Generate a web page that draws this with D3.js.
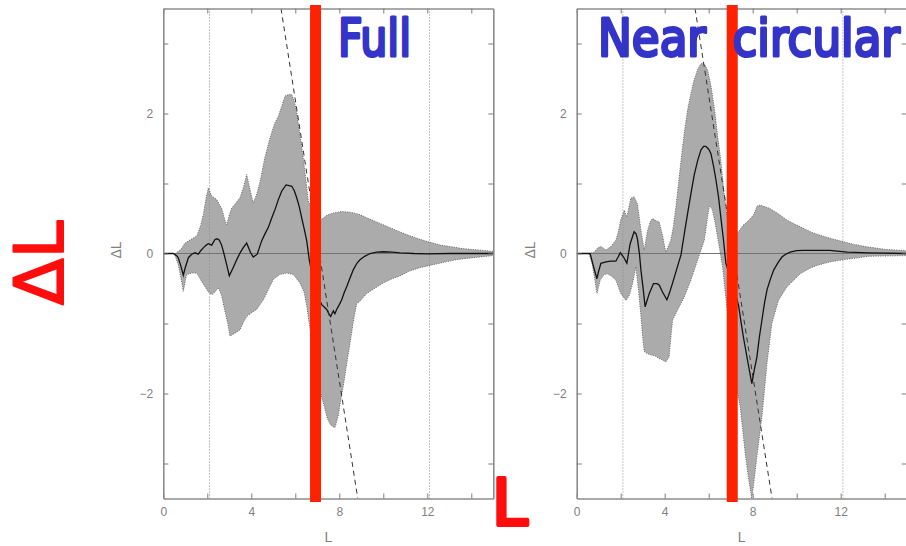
<!DOCTYPE html>
<meta charset="utf-8">
<style>
  body { margin: 0; background: #fff; }
</style>
<script src="https://d3js.org/d3.v7.min.js"></script>
<div id="my_dataviz"></div>
<script>

// ---- data: [L, deltaL] ----
var fullUpper = [[0,0],[0.55,0],[0.8,0.06],[0.99,0.15],[1.25,0.2],[1.52,0.25],[1.7,0.4],[1.82,0.56],[1.95,0.8],[2.05,0.94],[2.2,0.82],[2.43,0.77],[2.55,0.7],[2.65,0.65],[2.8,0.48],[2.88,0.41],[3.0,0.55],[3.11,0.65],[3.3,0.72],[3.49,0.8],[3.65,0.95],[3.79,1.13],[3.95,0.9],[4.09,0.72],[4.25,0.85],[4.4,1.03],[4.6,1.35],[4.85,1.65],[5.05,1.85],[5.23,1.96],[5.4,2.12],[5.53,2.25],[5.7,2.27],[5.84,2.27],[5.95,2.18],[6.06,2.03],[6.2,1.72],[6.36,1.37],[6.5,1.0],[6.59,0.75],[6.8,0.6],[7.2,0.49],[7.45,0.55],[7.73,0.58],[8.1,0.6],[8.49,0.59],[8.9,0.56],[9.25,0.51],[9.7,0.45],[10.15,0.39],[10.6,0.33],[11.06,0.27],[11.6,0.21],[12.12,0.16],[12.6,0.12],[13.03,0.1],[13.6,0.07],[14.1,0.057],[15,0.03]];
var fullLower = [[0,0],[0.5,0],[0.68,-0.16],[0.8,-0.35],[0.91,-0.54],[1.06,-0.3],[1.3,-0.28],[1.52,-0.28],[1.82,-0.44],[2.05,-0.55],[2.2,-0.59],[2.35,-0.55],[2.5,-0.49],[2.65,-0.6],[2.8,-0.82],[2.93,-1.0],[3.03,-1.18],[3.2,-1.15],[3.35,-1.12],[3.49,-1.09],[3.65,-0.98],[3.79,-0.9],[4.0,-0.85],[4.24,-0.8],[4.4,-0.73],[4.55,-0.66],[4.8,-0.5],[5.0,-0.37],[5.3,-0.3],[5.61,-0.28],[5.91,-0.3],[6.21,-0.42],[6.4,-0.55],[6.52,-0.75],[6.7,-1.15],[6.9,-1.6],[7.1,-1.95],[7.27,-2.13],[7.45,-2.35],[7.58,-2.44],[7.7,-2.47],[7.8,-2.49],[7.95,-2.32],[8.05,-2.12],[8.18,-1.9],[8.35,-1.55],[8.49,-1.28],[8.65,-0.95],[8.79,-0.72],[8.94,-0.68],[9.25,-0.57],[9.6,-0.5],[10.0,-0.42],[10.4,-0.36],[10.76,-0.32],[11.2,-0.25],[11.7,-0.2],[12.12,-0.17],[12.7,-0.13],[13.3,-0.09],[13.8,-0.07],[14.4,-0.05],[15,-0.03]];
var fullMean = [[0,0],[0.45,0],[0.6,-0.03],[0.68,-0.06],[0.8,-0.18],[0.91,-0.31],[1.0,-0.2],[1.14,-0.06],[1.29,-0.01],[1.44,0.01],[1.59,-0.01],[1.7,0.04],[1.82,0.08],[1.95,0.12],[2.05,0.14],[2.2,0.12],[2.35,0.2],[2.45,0.21],[2.55,0.19],[2.65,0.12],[2.73,0.03],[2.88,-0.16],[3.0,-0.32],[3.18,-0.2],[3.35,-0.08],[3.49,0.01],[3.65,0.09],[3.79,0.15],[3.88,0.08],[3.97,0.01],[4.09,-0.05],[4.27,-0.01],[4.47,0.18],[4.62,0.28],[4.77,0.37],[4.92,0.5],[5.08,0.63],[5.23,0.77],[5.38,0.89],[5.58,0.98],[5.72,0.97],[5.84,0.96],[5.95,0.9],[6.06,0.8],[6.18,0.67],[6.29,0.51],[6.4,0.36],[6.52,0.18],[6.64,-0.1],[6.8,-0.35],[7.0,-0.6],[7.2,-0.73],[7.43,-0.8],[7.52,-0.86],[7.61,-0.9],[7.68,-0.85],[7.73,-0.82],[7.8,-0.86],[7.88,-0.8],[8.0,-0.73],[8.11,-0.66],[8.22,-0.56],[8.34,-0.47],[8.5,-0.34],[8.64,-0.23],[8.8,-0.14],[8.94,-0.09],[9.15,-0.04],[9.4,0.0],[9.7,0.02],[10.0,0.025],[10.4,0.02],[10.76,0.01],[11.4,0.0],[12,-0.005],[13,0],[15,0]];
var fullDash = [[5.35,3.5],[8.84,-3.5]];

var nearUpper = [[0,0],[0.57,0],[0.8,0.02],[0.95,0.08],[1.1,0.1],[1.2,0.08],[1.33,0.05],[1.55,0.1],[1.78,0.19],[1.9,0.32],[2.0,0.48],[2.16,0.62],[2.28,0.52],[2.46,0.79],[2.61,0.81],[2.76,0.71],[2.85,0.5],[2.92,0.33],[3.07,0.05],[3.22,0.33],[3.35,0.46],[3.45,0.5],[3.6,0.47],[3.75,0.45],[3.9,0.26],[4.05,0.02],[4.28,0.19],[4.4,0.4],[4.51,0.67],[4.74,1.33],[4.9,1.75],[5.04,2.05],[5.2,2.3],[5.34,2.48],[5.5,2.63],[5.62,2.7],[5.72,2.72],[5.82,2.7],[5.95,2.62],[6.1,2.4],[6.25,2.09],[6.4,1.7],[6.55,1.33],[6.7,0.86],[6.85,0.5],[7.05,0.3],[7.36,0.31],[7.55,0.4],[7.74,0.45],[8.04,0.55],[8.2,0.68],[8.34,0.69],[8.55,0.67],[8.8,0.64],[9.2,0.56],[9.55,0.48],[9.9,0.42],[10.3,0.36],[10.7,0.3],[11.07,0.26],[11.6,0.21],[12.1,0.17],[12.6,0.13],[13.2,0.095],[14.0,0.06],[15,0.04]];
var nearLower = [[0,0],[0.45,0],[0.57,-0.01],[0.7,-0.15],[0.8,-0.33],[0.92,-0.57],[1.07,-0.38],[1.25,-0.3],[1.4,-0.29],[1.6,-0.33],[1.78,-0.38],[2.0,-0.57],[2.24,-0.67],[2.39,-0.6],[2.54,-0.43],[2.69,-0.19],[2.8,-0.5],[2.92,-0.9],[3.0,-1.2],[3.07,-1.4],[3.2,-1.43],[3.37,-1.45],[3.55,-1.46],[3.75,-1.5],[3.9,-1.52],[4.05,-1.55],[4.2,-1.48],[4.28,-1.2],[4.36,-0.95],[4.58,-0.81],[4.89,-0.62],[5.19,-0.38],[5.49,-0.1],[5.8,0.19],[5.92,0.45],[6.02,0.67],[6.1,0.66],[6.17,0.62],[6.3,0.42],[6.4,0.24],[6.52,0.02],[6.63,-0.19],[6.8,-0.7],[7.0,-1.3],[7.2,-1.8],[7.43,-2.19],[7.66,-2.86],[7.85,-3.3],[7.96,-3.5],[8.08,-3.2],[8.19,-2.9],[8.42,-2.33],[8.65,-1.57],[8.87,-1.0],[9.17,-0.67],[9.55,-0.48],[10.16,-0.29],[10.6,-0.21],[10.92,-0.17],[11.5,-0.12],[12.1,-0.09],[13.3,-0.04],[15,-0.03]];
var nearMean = [[0,0],[0.55,0],[0.61,0],[0.75,-0.17],[0.92,-0.36],[1.0,-0.25],[1.1,-0.14],[1.33,-0.12],[1.55,-0.11],[1.78,-0.11],[1.9,-0.04],[1.98,0.01],[2.13,-0.05],[2.28,-0.14],[2.43,0.14],[2.61,0.31],[2.7,0.28],[2.76,0.21],[2.85,0.0],[2.92,-0.24],[3.02,-0.5],[3.11,-0.76],[3.2,-0.67],[3.3,-0.57],[3.49,-0.43],[3.65,-0.43],[3.75,-0.45],[3.9,-0.55],[4.1,-0.66],[4.2,-0.58],[4.35,-0.43],[4.55,-0.22],[4.74,-0.02],[4.9,0.3],[5.04,0.57],[5.2,0.87],[5.34,1.12],[5.5,1.33],[5.65,1.48],[5.77,1.53],[5.87,1.53],[6.0,1.49],[6.1,1.43],[6.22,1.25],[6.33,1.05],[6.45,0.8],[6.55,0.52],[6.67,0.2],[6.78,-0.14],[7.0,-0.35],[7.2,-0.55],[7.36,-0.75],[7.47,-0.98],[7.58,-1.2],[7.78,-1.55],[7.96,-1.86],[8.08,-1.65],[8.19,-1.48],[8.3,-1.2],[8.42,-0.95],[8.53,-0.72],[8.65,-0.52],[8.8,-0.37],[8.95,-0.24],[9.15,-0.13],[9.33,-0.05],[9.5,-0.01],[9.7,0.02],[10.0,0.04],[10.3,0.045],[11.0,0.045],[11.5,0.045],[12.3,0.02],[13.3,0.01],[15,0]];
var nearDash = [[5.38,3.5],[8.88,-3.5]];

// axis ticks and labels
var xTicks = [0, 2, 4, 6, 8, 10, 12, 14];
var xLabels = [0, 4, 8, 12];
var yTicks = [-3, -2, -1, 0, 1, 2, 3];
var yLabels = [-2, 0, 2];
var dottedL = [2.1, 12.1];

// red marker position (in L) and title of each panel
var redMarkFull = 6.92, redMarkNear = 7.07;
var titles = ["Full", "Near", "circular"];

var width = 906, height = 546;

var svg = d3.select("#my_dataviz")
  .append("svg")
  .attr("width", width)
  .attr("height", height)
  .style("font-family", "'Liberation Sans', Arial, sans-serif");

svg.append("rect").attr("width", width).attr("height", height).attr("fill", "#fff");

function drawPanel(id, x0, upper, lower, mean, dash, redL) {
  var x = d3.scaleLinear().domain([0, 15]).range([x0, x0 + 330]);
  var y = d3.scaleLinear().domain([-3.5, 3.5]).range([498.5, 8.5]);

  svg.append("clipPath").attr("id", "clip" + id)
    .append("rect")
    .attr("x", x(0)).attr("y", y(3.5))
    .attr("width", x(15) - x(0)).attr("height", y(-3.5) - y(3.5));

  var g = svg.append("g").attr("clip-path", "url(#clip" + id + ")");
  var line = d3.line().x(function(d) { return x(d[0]); }).y(function(d) { return y(d[1]); });

  // spread band
  g.append("path")
    .attr("d", line(upper.concat(lower.slice().reverse())) + "Z")
    .attr("fill", "#ababab")
    .attr("stroke", "#5a5a5a")
    .attr("stroke-width", 0.9)
    .attr("stroke-dasharray", "1,1.4");

  // zero line
  g.append("line")
    .attr("x1", x(0)).attr("x2", x(15))
    .attr("y1", y(0)).attr("y2", y(0))
    .attr("stroke", "#747474").attr("stroke-width", 1.2);

  // dotted verticals
  g.selectAll(null)
    .data(dottedL)
    .enter()
    .append("line")
    .attr("x1", function(d) { return x(d); }).attr("x2", function(d) { return x(d); })
    .attr("y1", y(3.5)).attr("y2", y(-3.5))
    .attr("stroke", "#8a8a8a").attr("stroke-width", 1)
    .attr("stroke-dasharray", "1,2");

  // mean
  g.append("path")
    .attr("d", line(mean))
    .attr("fill", "none")
    .attr("stroke", "#111")
    .attr("stroke-width", 1.3);

  // dashed
  g.append("path")
    .attr("d", line(dash))
    .attr("fill", "none")
    .attr("stroke", "#333")
    .attr("stroke-width", 1)
    .attr("stroke-dasharray", "5,4");

  // frame + ticks
  var fmtX = function(d) { return xLabels.indexOf(d) >= 0 ? d : ""; };
  var fmtY = function(d) { return yLabels.indexOf(d) >= 0 ? d3.format("")(d) : ""; };

  var axes = svg.append("g");
  axes.append("g").attr("transform", "translate(0," + y(-3.5) + ")")
    .call(d3.axisBottom(x).tickValues(xTicks).tickSize(-5).tickSizeOuter(0).tickPadding(9).tickFormat(fmtX));
  axes.append("g").attr("transform", "translate(0," + y(3.5) + ")")
    .call(d3.axisTop(x).tickValues(xTicks).tickSize(-5).tickSizeOuter(0).tickFormat(""));
  axes.append("g").attr("transform", "translate(" + x(0) + ",0)")
    .call(d3.axisLeft(y).tickValues(yTicks).tickSize(-5).tickSizeOuter(0).tickPadding(10).tickFormat(fmtY));
  axes.append("g").attr("transform", "translate(" + x(15) + ",0)")
    .call(d3.axisRight(y).tickValues(yTicks).tickSize(-5).tickSizeOuter(0).tickFormat(""));

  axes.selectAll(".domain").attr("stroke", "#8c8c8c").attr("stroke-width", 1.6);
  axes.selectAll(".tick line").attr("stroke", "#7c7c7c").attr("stroke-width", 1);
  axes.selectAll(".tick text").attr("fill", "#808080").style("font-size", "12px").style("font-family", "'Liberation Sans', Arial, sans-serif");

  // axis titles
  svg.append("text")
    .attr("x", x(7.5)).attr("y", 542)
    .attr("text-anchor", "middle")
    .attr("fill", "#808080").style("font-size", "14px")
    .text("L");
  svg.append("text")
    .attr("transform", "translate(" + (x0 - 42) + ",250) rotate(-90)")
    .attr("text-anchor", "middle")
    .attr("fill", "#808080").style("font-size", "14px")
    .text("ΔL");

  // red marker bar
  svg.append("line")
    .attr("x1", x(redL)).attr("x2", x(redL))
    .attr("y1", 5).attr("y2", 502)
    .attr("stroke", "#ff2200").attr("stroke-width", 11);

  return x;
}

var xFull = drawPanel("a", 163.3, fullUpper, fullLower, fullMean, fullDash, redMarkFull);
var xNear = drawPanel("b", 576.7, nearUpper, nearLower, nearMean, nearDash, redMarkNear);

// blue panel titles (rounded, hand-lettered look)
var blue = "#3434c8";
var titleFont = "'Comic Sans MS', 'DejaVu Sans', sans-serif";
function styleTitle(sel) {
  sel.attr("fill", blue).attr("stroke", blue)
    .attr("stroke-width", 3.2).attr("stroke-linejoin", "round").attr("stroke-linecap", "round")
    .style("font-family", titleFont).style("font-size", "52px");
}
svg.append("text")
  .attr("x", 338).attr("y", 56)
  .attr("textLength", 73).attr("lengthAdjust", "spacingAndGlyphs")
  .call(styleTitle)
  .text(titles[0]);

// second title squeezed with a transform so its box stays inside the picture
var t2 = svg.append("text")
  .attr("transform", "translate(598,56) scale(0.87,1)")
  .call(styleTitle);
t2.append("tspan").attr("x", 0).text(titles[1]);
t2.append("tspan").attr("dx", 14).text(" " + titles[2]);

// red hand-written annotations
var red = "#ff0d0d";
svg.append("text")
  .attr("transform", "translate(63,305) rotate(-90)")
  .attr("fill", red).attr("stroke", red).attr("stroke-width", 2).attr("stroke-linejoin", "round")
  .style("font-family", "'DejaVu Sans', sans-serif").style("font-size", "68px")
  .text("ΔL");

svg.append("text")
  .attr("x", 492).attr("y", 525)
  .attr("fill", red).attr("stroke", red).attr("stroke-width", 4).attr("stroke-linejoin", "round")
  .style("font-family", "'DejaVu Sans', sans-serif").style("font-size", "64px")
  .text("L");

</script>
